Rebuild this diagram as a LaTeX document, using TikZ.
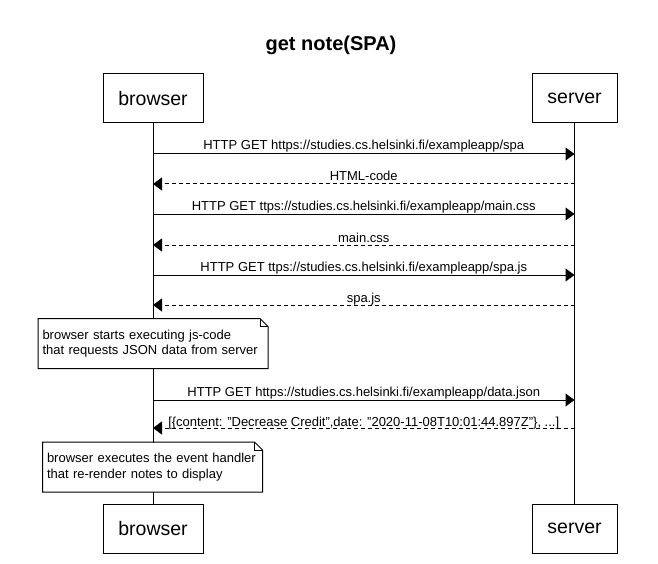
\documentclass[tikz,border=0pt]{standalone}
\usepackage{fontspec}
\setmainfont{Liberation Sans}
\usetikzlibrary{arrows.meta}

\tikzset{
  actor/.style={draw, fill=white, minimum height=49pt, inner sep=0pt, font=\fontsize{19.5}{22}\selectfont},
  msg/.style={-{Triangle[length=9pt,width=13pt]}},
  reply/.style={msg, dash pattern=on 4pt off 3pt},
  lbl/.style={anchor=base, inner sep=0pt, yshift=4pt, font=\fontsize{13}{15}\selectfont},
  note/.style={fill=white, align=left, text width=221pt, minimum height=49pt, inner xsep=4pt, font=\fontsize{13}{15.5}\selectfont},
}

\begin{document}
\begin{tikzpicture}[x=1pt,y=-1pt,line width=1pt]
\useasboundingbox (0,0) rectangle (658,564);
\node[font=\bfseries\fontsize{20}{22}\selectfont] (title) at (331,45) {get note(SPA)};
% participants
\node[actor, minimum width=100pt] (bt) at (153,98.5) {browser};
\node[actor, minimum width=85pt] (st) at (574.5,98.5) {server};
\node[actor, minimum width=100pt] (bb) at (153,528.5) {browser};
\node[actor, minimum width=85pt] (sb) at (574.5,528.5) {server};
\draw (bt.south) -- (bb.north);
\draw (st.south) -- (sb.north);
% requests
\draw[msg] (bt |- 0,154) -- (st |- 0,154) node[lbl, midway] {HTTP GET https://studies.cs.helsinki.fi/exampleapp/spa};
\draw[reply] (st |- 0,184) -- (bt |- 0,184) node[lbl, midway, yshift=-1pt] {HTML-code};
\draw[msg] (bt |- 0,214) -- (st |- 0,214) node[lbl, midway] {HTTP GET ttps://studies.cs.helsinki.fi/exampleapp/main.css};
\draw[reply] (st |- 0,245) -- (bt |- 0,245) node[lbl, midway, yshift=-1pt] {main.css};
\draw[msg] (bt |- 0,275) -- (st |- 0,275) node[lbl, midway] {HTTP GET ttps://studies.cs.helsinki.fi/exampleapp/spa.js};
\draw[reply] (st |- 0,305) -- (bt |- 0,305) node[lbl, midway, yshift=-1pt] {spa.js};
% note 1
\node[note] (n1) at (153,343.5) {browser starts executing js-code\\that requests JSON data from server};
\draw (n1.north west) -- ([xshift=-8pt]n1.north east) -- ([yshift=-8pt]n1.north east) -- (n1.south east) -- (n1.south west) -- cycle;
\draw[line width=0.5pt] ([xshift=-8pt]n1.north east) |- ([yshift=-8pt]n1.north east);
\draw[msg] (bt |- 0,400) -- (st |- 0,400) node[lbl, midway] {HTTP GET https://studies.cs.helsinki.fi/exampleapp/data.json};
\draw[reply] (st |- 0,428) -- (bt |- 0,428) node[lbl, midway, yshift=-2pt] {[\{content: "Decrease Credit",date: "2020-11-08T10:01:44.897Z"\}, ...]};
% note 2
\node[note, text width=211pt] (n2) at (152.5,467) {browser executes the event handler\\that re-render notes to display};
\draw (n2.north west) -- ([xshift=-8pt]n2.north east) -- ([yshift=-8pt]n2.north east) -- (n2.south east) -- (n2.south west) -- cycle;
\draw[line width=0.5pt] ([xshift=-8pt]n2.north east) |- ([yshift=-8pt]n2.north east);
\end{tikzpicture}
\end{document}
